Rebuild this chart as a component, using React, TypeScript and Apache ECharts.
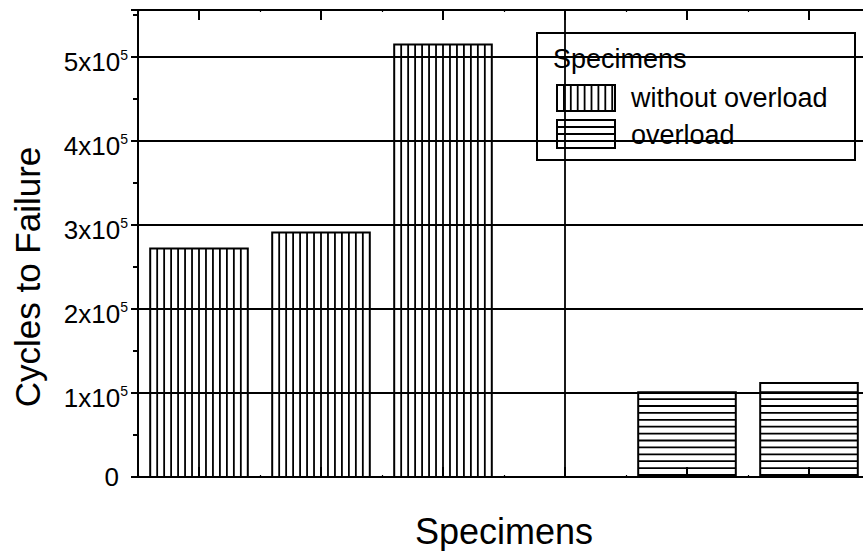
import React, { useEffect, useRef } from 'react';
import * as echarts from 'echarts';

// ---- data ----
const categories = ['1', '2', '3', '', '4', '5'];
const withoutOverload = [272000, 291000, 515000, null, null, null];
const overload = [null, null, null, null, 101000, 112000];
const yMin = 0;
const yMax = 556000;
const yInterval = 100000;
const seriesNames = ['without overload', 'overload'];
const legendTitle = 'Specimens';
const xTitle = 'Specimens';
const yTitle = 'Cycles to Failure';
const separatorIndex = 3;

const FONT = "'Liberation Sans', Arial, Helvetica, sans-serif";
const BAR_FRAC = 0.8;
const LW = 1.8;

function toData(arr: (number | null)[]) {
  const out: [number, number][] = [];
  arr.forEach((v, i) => {
    if (v != null) out.push([i, v]);
  });
  return out;
}

function makeRender(kind: 'v' | 'h') {
  return (_params: any, api: any) => {
    const idx = api.value(0);
    const val = api.value(1);
    const base = api.coord([idx, 0]);
    const top = api.coord([idx, val]);
    const bw = api.size([1, 0])[0] * BAR_FRAC;
    const x0 = base[0] - bw / 2;
    const x1 = base[0] + bw / 2;
    const yb = base[1];
    const yt = top[1];
    const ls = { stroke: '#000', lineWidth: LW, fill: 'none' };
    const children: any[] = [];
    if (kind === 'v') {
      const n = 14;
      for (let k = 1; k < n; k++) {
        const x = x0 + (k * bw) / n;
        children.push({ type: 'line', shape: { x1: x, y1: yt, x2: x, y2: yb }, style: ls });
      }
    } else {
      for (let y = yb - 2; y > yt + 2.5; y -= 6.9) {
        children.push({ type: 'line', shape: { x1: x0, y1: y, x2: x1, y2: y }, style: ls });
      }
    }
    children.push({
      type: 'rect',
      shape: { x: x0, y: yt, width: bw, height: yb - yt },
      style: { fill: 'none', stroke: '#000', lineWidth: 2 },
    });
    return { type: 'group', children };
  };
}

function legendIcon(kind: 'v' | 'h', x: number, y: number, w: number, h: number) {
  const ls = { stroke: '#000', lineWidth: LW, fill: 'none' };
  const children: any[] = [];
  if (kind === 'v') {
    for (let xx = x + 6.9; xx < x + w - 2; xx += 6.9) {
      children.push({ type: 'line', shape: { x1: xx, y1: y, x2: xx, y2: y + h }, style: ls });
    }
  } else {
    for (let yy = y + 7; yy < y + h - 2; yy += 7) {
      children.push({ type: 'line', shape: { x1: x, y1: yy, x2: x + w, y2: yy }, style: ls });
    }
  }
  children.push({ type: 'rect', shape: { x, y, width: w, height: h }, style: { fill: 'none', stroke: '#000', lineWidth: 2 } });
  return { type: 'group', children };
}

function textEl(text: string, x: number, y: number, size: number, align = 'left', rotation = 0) {
  return {
    type: 'text',
    x,
    y,
    rotation,
    style: {
      text,
      fill: '#000',
      font: `${size}px ${FONT}`,
      fontSize: size,
      fontFamily: FONT,
      align,
      verticalAlign: 'middle',
      textAlign: align,
      textVerticalAlign: 'middle',
    },
  };
}

export default function App() {
  const ref = useRef<HTMLDivElement>(null);
  useEffect(() => {
    if (!ref.current) return;
    const chart = echarts.init(ref.current, undefined, { renderer: 'svg' });
    const axisColor = '#000';
    const catAxisBase = {
      type: 'category',
      data: categories,
      boundaryGap: true,
      axisLabel: { show: false },
      splitLine: { show: false },
    };
    const option: any = {
      animation: false,
      backgroundColor: '#fff',
      grid: { left: 138, top: 10, width: 732, height: 467, containLabel: false },
      xAxis: [
        {
          ...catAxisBase,
          position: 'bottom',
          axisLine: { show: true, lineStyle: { color: axisColor, width: 2 } },
          axisTick: { show: true, inside: true, alignWithLabel: true, length: 10, lineStyle: { color: axisColor, width: 2 } },
        },
        {
          ...catAxisBase,
          position: 'top',
          axisLine: { show: true, lineStyle: { color: axisColor, width: 2 } },
          axisTick: { show: true, inside: true, alignWithLabel: true, length: 10, lineStyle: { color: axisColor, width: 2 } },
        },
        {
          ...catAxisBase,
          position: 'top',
          axisLine: { show: false },
          axisTick: { show: true, inside: true, alignWithLabel: false, length: 2, lineStyle: { color: axisColor, width: 1.2 } },
        },
        {
          ...catAxisBase,
          position: 'bottom',
          axisLine: { show: false },
          axisTick: { show: true, inside: true, alignWithLabel: false, length: 2, lineStyle: { color: axisColor, width: 1.2 } },
        },
      ],
      yAxis: {
        type: 'value',
        min: yMin,
        max: yMax,
        interval: yInterval,
        axisLine: { show: true, lineStyle: { color: axisColor, width: 2 } },
        axisTick: { show: true, inside: false, length: 7, lineStyle: { color: axisColor, width: 2 } },
        minorTick: { show: true, splitNumber: 2, length: 5, lineStyle: { color: axisColor, width: 2 } },
        splitLine: { show: true, lineStyle: { color: axisColor, width: LW, type: 'solid' } },
        minorSplitLine: { show: false },
        axisLabel: {
          margin: 10,
          color: '#000',
          fontFamily: FONT,
          formatter: (v: number) => {
            if (v === 0) return '{z|0}';
            if (v % yInterval === 0) return `{m|${v / yInterval}x10}{s|5}`;
            return '';
          },
          rich: {
            z: { fontSize: 26, lineHeight: 26, fontFamily: FONT, color: '#000', padding: [0, 9, 0, 0] },
            m: { fontSize: 26, lineHeight: 26, fontFamily: FONT, color: '#000', padding: [10, 0, 0, 0] },
            s: { fontSize: 14, lineHeight: 14, fontFamily: FONT, color: '#000', verticalAlign: 'top', padding: [4, 0, 0, 0] },
          },
        },
      },
      series: [
        {
          type: 'custom',
          name: seriesNames[0],
          xAxisIndex: 0,
          yAxisIndex: 0,
          renderItem: makeRender('v'),
          encode: { x: 0, y: 1 },
          data: toData(withoutOverload),
          markLine: {
            silent: true,
            symbol: ['none', 'none'],
            label: { show: false },
            lineStyle: { color: '#000', width: LW, type: 'solid' },
            data: [{ xAxis: separatorIndex }],
          },
        },
        {
          type: 'custom',
          name: seriesNames[1],
          xAxisIndex: 0,
          yAxisIndex: 0,
          renderItem: makeRender('h'),
          encode: { x: 0, y: 1 },
          data: toData(overload),
        },
      ],
      graphic: [
        {
          type: 'group',
          z: 100,
          children: [
            {
              type: 'rect',
              shape: { x: 537, y: 33, width: 318, height: 127 },
              style: { fill: '#fff', stroke: '#000', lineWidth: 2 },
            },
            textEl(legendTitle, 553, 59, 27),
            legendIcon('v', 557, 85, 58, 26),
            legendIcon('h', 557, 120, 58, 28),
            textEl(seriesNames[0], 631, 98, 27),
            textEl(seriesNames[1], 631, 134.5, 27),
          ],
        },
        textEl(xTitle, 504, 531, 36, 'center'),
        textEl(yTitle, 27, 277, 35, 'center', Math.PI / 2),
      ],
    };
    chart.setOption(option);
    return () => chart.dispose();
  }, []);
  return (
    <div style={{ position: 'fixed', left: 0, top: 0, width: 863, height: 551, overflow: 'hidden', background: '#fff' }}>
      <div ref={ref} style={{ width: 900, height: 551 }} />
    </div>
  );
}
